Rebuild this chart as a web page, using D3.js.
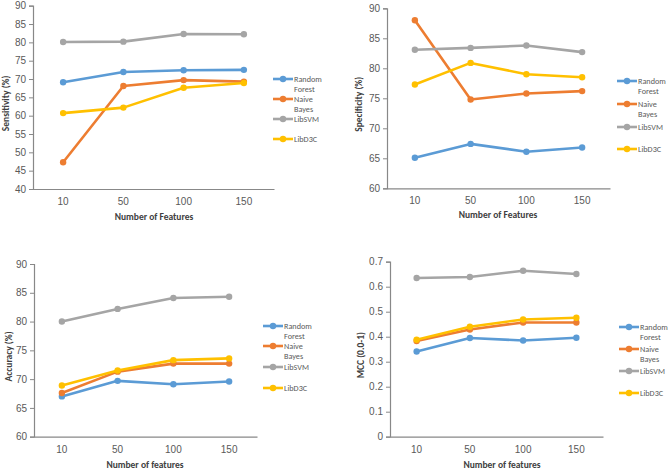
<!DOCTYPE html>
<html><head><meta charset="utf-8">
<script src="https://cdn.jsdelivr.net/npm/d3@7"></script>
<style>body{margin:0;background:#fff;}svg{display:block;font-family:Calibri,"Liberation Sans","Open Sans",Arial,sans-serif;}</style>
</head><body>
<svg id="c" width="670" height="470"></svg>
<script>
const features = ["10", "50", "100", "150"];
const seriesNames = ["Random Forest", "Naive Bayes", "LibSVM", "LibD3C"];
const seriesColors = ["#5B9BD5", "#ED7D31", "#A5A5A5", "#FFC000"];

const sensitivityRF = [69.1, 71.9, 72.4, 72.5];
const sensitivityNB = [47.3, 68.1, 69.7, 69.3];
const sensitivitySVM = [80.1, 80.2, 82.3, 82.2];
const sensitivityD3C = [60.7, 62.2, 67.6, 68.9];

const specificityRF = [65.1, 67.4, 66.1, 66.8];
const specificityNB = [88.0, 74.8, 75.8, 76.2];
const specificitySVM = [83.1, 83.4, 83.8, 82.7];
const specificityD3C = [77.3, 80.9, 79.0, 78.5];

const accuracyRF = [67.0, 69.7, 69.1, 69.6];
const accuracyNB = [67.6, 71.3, 72.7, 72.7];
const accuracySVM = [80.0, 82.2, 84.1, 84.3];
const accuracyD3C = [68.9, 71.5, 73.3, 73.6];

const mccRF = [0.341, 0.395, 0.385, 0.396];
const mccNB = [0.383, 0.429, 0.457, 0.457];
const mccSVM = [0.635, 0.639, 0.664, 0.651];
const mccD3C = [0.388, 0.440, 0.469, 0.476];

const sensTicks = [40, 45, 50, 55, 60, 65, 70, 75, 80, 85, 90];
const specTicks = [60, 65, 70, 75, 80, 85, 90];
const accTicks = [60, 65, 70, 75, 80, 85, 90];
const mccTicks = [0, 0.1, 0.2, 0.3, 0.4, 0.5, 0.6, 0.7];

const svg = d3.select("#c");

function panel(o) {
  const g = svg.append("g");
  const x = d3.scaleBand().domain(features).range([o.x0, o.x1]);
  const y = d3.scaleLinear().domain([o.ticks[0], o.ticks[o.ticks.length - 1]]).range([o.yb, o.yt]);

  const ya = g.append("g").attr("transform", `translate(${o.x0},0)`)
    .call(d3.axisLeft(y).tickValues(o.ticks).tickSize(4).tickPadding(3).tickFormat(o.fmt || d3.format("d")));
  ya.select(".domain").attr("stroke", "#888").attr("stroke-width", 1.2);
  ya.selectAll(".tick line").attr("stroke", "#888");
  ya.selectAll("text").attr("fill", "#595959").attr("font-size", 10);

  const xa = g.append("g").attr("transform", `translate(0,${o.yb})`)
    .call(d3.axisBottom(x).tickSize(0).tickPadding(9));
  xa.select(".domain").attr("stroke", "#888").attr("stroke-width", 1.2);
  xa.selectAll("text").attr("fill", "#595959").attr("font-size", 10);

  g.append("text").attr("x", o.xtx).attr("y", o.xty)
    .attr("text-anchor", "middle").attr("font-size", 9.5).attr("font-weight", "bold").attr("fill", "#404040").text(o.xt);
  g.append("text").attr("transform", `translate(${o.ytx},${(o.yt + o.yb) / 2 + 6}) rotate(-90)`)
    .attr("text-anchor", "middle").attr("font-size", 9.5).attr("font-weight", "bold").attr("fill", "#404040").text(o.ytt);

  const line = d3.line().x((d, i) => x(features[i]) + x.bandwidth() / 2).y(d => y(d));
  o.series.forEach((s, k) => {
    g.append("path").datum(s).attr("d", line).attr("fill", "none")
      .attr("stroke", seriesColors[k]).attr("stroke-width", 2.6).attr("stroke-linejoin", "round");
    g.selectAll(null).data(s).enter().append("circle")
      .attr("cx", (d, i) => x(features[i]) + x.bandwidth() / 2).attr("cy", d => y(d))
      .attr("r", 3.2).attr("fill", seriesColors[k]);
  });

  // legend
  const lines = [["Random", "Forest"], ["Naive", "Bayes"], ["LibSVM"], ["LibD3C"]];
  o.leg.forEach((ly, k) => {
    const lg = g.append("g");
    lg.append("line").attr("x1", o.lx).attr("x2", o.lx + 20).attr("y1", ly).attr("y2", ly)
      .attr("stroke", seriesColors[k]).attr("stroke-width", 2.6);
    lg.append("circle").attr("cx", o.lx + 10).attr("cy", ly).attr("r", 3.2).attr("fill", seriesColors[k]);
    lines[k].forEach((t, j) => {
      lg.append("text").attr("x", o.lx + 21).attr("y", ly + 3 + j * 10)
        .attr("font-size", 8.2).attr("fill", "#595959").text(t);
    });
  });
}

panel({x0: 33, x1: 274, yt: 5.7, yb: 189, ticks: sensTicks, xt: "Number of Features", xtx: 154, xty: 220, ytx: 9, ytt: "Sensitivity (%)",
  series: [sensitivityRF, sensitivityNB, sensitivitySVM, sensitivityD3C], lx: 273, leg: [79, 99, 119, 139]});
panel({x0: 387, x1: 610, yt: 8.3, yb: 188.3, ticks: specTicks, xt: "Number of Features", xtx: 498, xty: 218, ytx: 362, ytt: "Specificity (%)",
  series: [specificityRF, specificityNB, specificitySVM, specificityD3C], lx: 617, leg: [81, 104, 127, 149]});
panel({x0: 34, x1: 257, yt: 264, yb: 436.7, ticks: accTicks, xt: "Number of features", xtx: 145, xty: 468, ytx: 12, ytt: "Accuracy (%)",
  series: [accuracyRF, accuracyNB, accuracySVM, accuracyD3C], lx: 263, leg: [326, 346, 367, 388]});
panel({x0: 390, x1: 603, yt: 261.7, yb: 436.7, ticks: mccTicks, fmt: d => d === 0 ? "0" : d3.format(".1f")(d), xt: "Number of features", xtx: 502, xty: 468, ytx: 364, ytt: "MCC (0.0-1)",
  series: [mccRF, mccNB, mccSVM, mccD3C], lx: 619, leg: [327, 349, 371, 393]});
</script>
</body></html>
